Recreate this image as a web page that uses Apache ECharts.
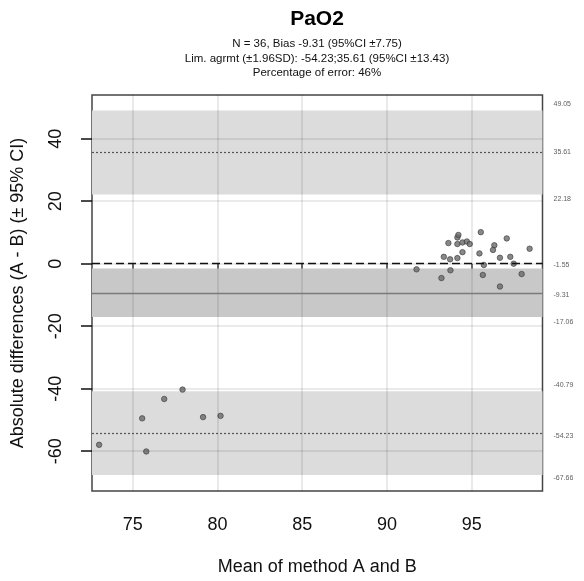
<!DOCTYPE html>
<html><head><meta charset="utf-8">
<script src="https://cdn.jsdelivr.net/npm/echarts@6/dist/echarts.min.js"></script>
<style>html,body{margin:0;padding:0;background:#fff}#c{width:584px;height:581px}</style>
</head><body><div id="c"></div>
<script>
const meanAB = [91.74,93.21,93.74,93.35,93.72,94.15,94.45,93.62,94.15,94.15,94.21,94.45,94.71,94.88,95.53,97.06,96.33,96.25,95.45,98.41,96.66,97.27,95.71,97.47,95.65,97.94,96.66,
  73.02,75.56,75.80,76.86,77.94,79.15,80.18];
const diffAB = [-1.8,-4.6,-2.1,2.2,1.4,1.8,3.7,6.6,6.3,8.4,9.2,6.8,7.1,6.3,10.1,8.1,5.9,4.4,3.3,4.8,1.9,2.2,-0.4,0.0,-3.6,-3.3,-7.3,
  -57.97,-49.5,-60.1,-43.3,-40.3,-49.1,-48.7];
const xTicks = [75,80,85,90,95];
const yTicks = [-60,-40,-20,0,20,40];
const bias = -9.31, biasLo = -17.06, biasHi = -1.55;
const loaUp = 35.61, loaUpLo = 22.18, loaUpHi = 49.05;
const loaLow = -54.23, loaLowLo = -67.66, loaLowHi = -40.79;
const rightLabels = [49.05,35.61,22.18,-1.55,-9.31,-17.06,-40.79,-54.23,-67.66];
const titleText = 'PaO2';
const subLines = ['N = 36, Bias -9.31 (95%CI \u00b17.75)','Lim. agrmt (\u00b11.96SD): -54.23;35.61 (95%CI \u00b113.43)','Percentage of error: 46%'];

const X_MIN = 72.6, X_MAX = 99.17, Y_MIN = -72.75, Y_MAX = 54.0;
const labelNudge = [-6,0,5,-3,2,5,-6,3,3];
const FONT = "'Liberation Sans', Arial, sans-serif";

const chart = echarts.init(document.getElementById('c'), null, {renderer:'canvas'});
const gridLine = {color:'rgba(0,0,0,0.11)', width:1.5, type:'solid'};
chart.setOption({
  animation:false,
  textStyle:{fontFamily:FONT},
  grid:{left:92, right:41.5, top:95, bottom:89.3, show:true, borderColor:'#444', borderWidth:1.5, backgroundColor:'transparent'},
  xAxis:{type:'value', min:X_MIN, max:X_MAX,
    name:'Mean of method A and B', nameLocation:'middle', nameGap:67,
    nameTextStyle:{fontSize:18, color:'#111', fontFamily:FONT},
    axisLine:{show:false},
    axisTick:{show:true, length:11, lineStyle:{color:'#444', width:1.5}, customValues:xTicks},
    axisLabel:{fontSize:18, color:'#111', margin:25, customValues:xTicks, fontFamily:FONT},
    splitLine:{show:false}},
  yAxis:{type:'value', min:Y_MIN, max:Y_MAX,
    name:'Absolute differences (A - B) (\u00b1 95% CI)', nameLocation:'middle', nameGap:65,
    nameTextStyle:{fontSize:18, color:'#111', fontFamily:FONT},
    axisLine:{show:false},
    axisTick:{show:true, length:11, lineStyle:{color:'#111', width:1.5}, customValues:yTicks},
    axisLabel:{fontSize:18, color:'#111', margin:27, rotate:90, customValues:yTicks, fontFamily:FONT},
    splitLine:{show:false}},
  graphic:[
    {type:'text', x:317, y:19, style:{text:titleText, font:'bold 21px '+FONT, fill:'#000', align:'center', verticalAlign:'middle'}},
    {type:'text', x:317, y:44, style:{text:subLines[0], font:'11.5px '+FONT, fill:'#111', align:'center', verticalAlign:'middle'}},
    {type:'text', x:317, y:58.5, style:{text:subLines[1], font:'11.5px '+FONT, fill:'#111', align:'center', verticalAlign:'middle'}},
    {type:'text', x:317, y:73, style:{text:subLines[2], font:'11.5px '+FONT, fill:'#111', align:'center', verticalAlign:'middle'}}
  ],
  series:[
    {type:'line', data:[], z:1, silent:true,
      markArea:{silent:true, data:[
        [{yAxis:loaUpLo, itemStyle:{color:'#dcdcdc'}},{yAxis:loaUpHi}],
        [{yAxis:biasLo, itemStyle:{color:'#c8c8c8'}},{yAxis:biasHi}],
        [{yAxis:loaLowLo, itemStyle:{color:'#dcdcdc'}},{yAxis:loaLowHi}]
      ]}},
    {type:'scatter', z:2, symbol:'circle', symbolSize:5.5,
      itemStyle:{color:'#6a6a6a', borderColor:'#3a3a3a', borderWidth:0.8},
      data:meanAB.map((x,i)=>[x,diffAB[i]])},
    {type:'line', data:[], z:3, silent:true,
      markLine:{silent:true, symbol:['none','none'], label:{show:false}, animation:false,
        data:[
          ...xTicks.map(v=>({xAxis:v, lineStyle:gridLine})),
          ...yTicks.map(v=>({yAxis:v, lineStyle:gridLine})),
          {yAxis:0, lineStyle:{color:'#111', width:1.3, type:[8,4]}},
          {yAxis:bias, lineStyle:{color:'#7a7a7a', width:1.3, type:'solid'}},
          {yAxis:loaUp, lineStyle:{color:'#555', width:1.2, type:[2,2]}},
          {yAxis:loaLow, lineStyle:{color:'#555', width:1.2, type:[2,2]}}
        ]}},
    {type:'scatter', z:4, silent:true, symbolSize:0, clip:false,
      data:rightLabels.map((v,i)=>({value:[X_MAX,v], label:{offset:[0,labelNudge[i]]}})),
      label:{show:true, position:'right', distance:11, fontSize:7, color:'#333', fontFamily:FONT,
        formatter:p=>p.value[1].toFixed(2)}}
  ]
});
</script></body></html>
